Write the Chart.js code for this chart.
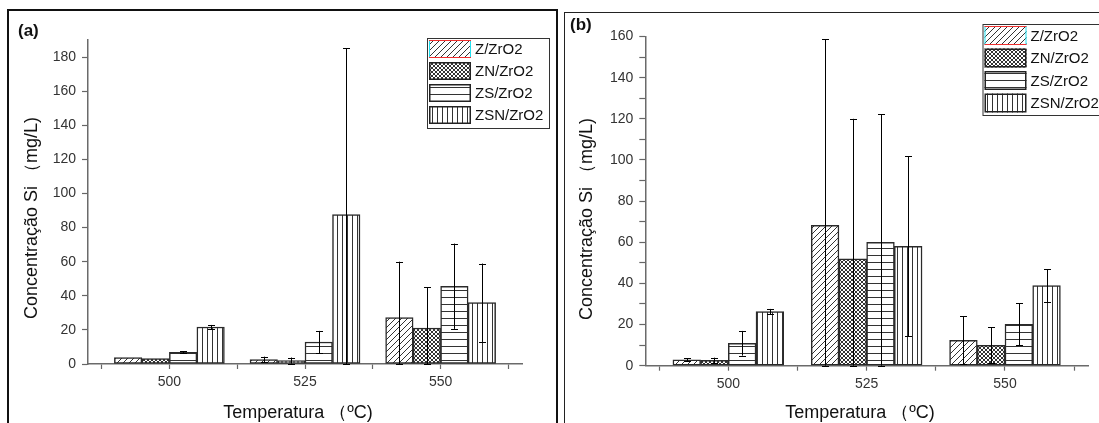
<!DOCTYPE html>
<html>
<head>
<meta charset="utf-8">
<script src="https://cdn.jsdelivr.net/npm/chart.js@4.4.1/dist/chart.umd.min.js"></script>
<style>
  body { margin: 0; background: #fff; width: 1099px; height: 423px; overflow: hidden; position: relative; }
  canvas { position: absolute; top: 0; }
  #chartA { left: 0; }
  #chartB { left: 560px; }
  .frame { position: absolute; pointer-events: none; }
  #frameA { left: 7px; top: 9px; width: 547px; height: 500px; border: 2px solid #111; }
  #frameB { left: 564px; top: 12px; width: 600px; height: 500px; border: 1px solid #222; }
  .tag { position: absolute; font: bold 17px Arial, "Liberation Sans", sans-serif; color: #111; }
</style>
</head>
<body>
<canvas id="chartA" width="560" height="423"></canvas>
<canvas id="chartB" width="539" height="423"></canvas>
<div class="frame" id="frameA"></div>
<div class="frame" id="frameB"></div>
<div class="tag" style="left:18px;top:21px">(a)</div>
<div class="tag" style="left:570px;top:15px">(b)</div>
<script>
// temperatures (ºC)
const categories = [500, 525, 550];
const seriesNames = ['Z/ZrO2', 'ZN/ZrO2', 'ZS/ZrO2', 'ZSN/ZrO2'];
const xTitle = 'Temperatura （ºC)';
const yTitle = 'Concentração Si （mg/L)';

// panel (a)  Concentração Si (mg/L)
const aZ = [3.8, 2.6, 27.2];
const aZErr = [0, 1.7, 32.8];
const aZN = [3.2, 2.0, 21.1];
const aZNErr = [0, 1.8, 24.0];
const aZS = [6.8, 12.9, 45.6];
const aZSErr = [0.6, 6.5, 25.0];
const aZSN = [21.7, 87.6, 36.0];
const aZSNErr = [1.2, 97.7, 22.9];

// panel (b)
const bZ = [2.9, 68.2, 12.3];
const bZErr = [0.8, 90.5, 11.7];
const bZN = [2.6, 52.0, 9.9];
const bZNErr = [1.3, 68.0, 8.8];
const bZS = [10.9, 60.0, 20.1];
const bZSErr = [6.0, 62.2, 10.2];
const bZSN = [26.3, 58.0, 38.9];
const bZSNErr = [1.3, 43.8, 7.9];

const FONT = 'Arial, "Liberation Sans", sans-serif';

// hatch fills
function makePattern(kind) {
    const c = document.createElement('canvas');
    const s = kind === 'vert' ? 5 : kind === 'cross' ? 4 : kind === 'horiz' ? 7 : 6;
    c.width = s; c.height = s;
    const g = c.getContext('2d');
    g.fillStyle = '#fff';
    g.fillRect(0, 0, s, s);
    g.strokeStyle = '#333';
    g.lineWidth = 1;
    g.beginPath();
    if (kind === 'diag') {
        g.moveTo(0, s); g.lineTo(s, 0);
        g.moveTo(-1, 1); g.lineTo(1, -1);
        g.moveTo(s - 1, s + 1); g.lineTo(s + 1, s - 1);
    } else if (kind === 'cross') {
        g.moveTo(0, 0); g.lineTo(s, s);
        g.moveTo(0, s); g.lineTo(s, 0);
    } else if (kind === 'horiz') {
        g.moveTo(0, 3.5); g.lineTo(s, 3.5);
    } else {
        g.moveTo(2.5, 0); g.lineTo(2.5, s);
    }
    g.stroke();
    return g.createPattern(c, 'repeat');
}
const fills = [makePattern('diag'), makePattern('cross'), makePattern('horiz'), makePattern('vert')];

const errorBars = {
    id: 'errorBars',
    afterDatasetsDraw(chart) {
        const ctx = chart.ctx;
        const y = chart.scales.y;
        ctx.save();
        ctx.strokeStyle = '#000';
        ctx.lineWidth = 1;
        chart.data.datasets.forEach((ds, i) => {
            const meta = chart.getDatasetMeta(i);
            meta.data.forEach((bar, j) => {
                const err = ds.errors[j];
                if (!err) return;
                const v = ds.data[j].y;
                const top = y.getPixelForValue(v + err);
                const bot = y.getPixelForValue(Math.max(v - err, 0));
                const x = Math.round(bar.x) + 0.5;
                ctx.beginPath();
                ctx.moveTo(x, top); ctx.lineTo(x, bot);
                ctx.moveTo(x - 3.5, Math.round(top) + 0.5); ctx.lineTo(x + 3.5, Math.round(top) + 0.5);
                ctx.moveTo(x - 3.5, Math.round(bot) + 0.5); ctx.lineTo(x + 3.5, Math.round(bot) + 0.5);
                ctx.stroke();
            });
        });
        ctx.restore();
    }
};

// axis titles placed as in the original figure
const axisTitles = {
    id: 'axisTitles',
    afterDraw(chart, args, o) {
        const ctx = chart.ctx;
        ctx.save();
        ctx.fillStyle = '#111';
        ctx.font = '18px ' + FONT;
        ctx.textAlign = 'center';
        ctx.textBaseline = 'middle';
        ctx.fillText(xTitle, o.xx, o.xy);
        ctx.translate(o.yx, o.yy);
        ctx.rotate(-Math.PI / 2);
        ctx.fillText(yTitle, 0, 0);
        ctx.restore();
    }
};

const legendBox = {
    id: 'legendBox',
    afterDraw(chart, args, o) {
        const ctx = chart.ctx;
        ctx.save();
        ctx.strokeStyle = '#333';
        ctx.lineWidth = 1;
        ctx.strokeRect(o.x + 0.5, o.y + 0.5, o.w, o.h);
        ctx.font = '15px ' + FONT;
        ctx.textBaseline = 'middle';
        chart.data.datasets.forEach((ds, i) => {
            const sx = o.x + 2, sy = o.y + 2 + i * o.row;
            ctx.fillStyle = ds.backgroundColor;
            ctx.fillRect(sx, sy, o.sw, o.sh);
            if (i === 0) {
                ctx.lineWidth = 1;
                ctx.strokeStyle = '#20e0f0';
                ctx.beginPath();
                ctx.moveTo(sx + 0.5, sy); ctx.lineTo(sx + 0.5, sy + o.sh);
                ctx.moveTo(sx + o.sw - 0.5, sy); ctx.lineTo(sx + o.sw - 0.5, sy + o.sh);
                ctx.stroke();
                ctx.strokeStyle = '#f03030';
                ctx.beginPath();
                ctx.moveTo(sx, sy + 0.5); ctx.lineTo(sx + o.sw, sy + 0.5);
                ctx.moveTo(sx, sy + o.sh - 0.5); ctx.lineTo(sx + o.sw, sy + o.sh - 0.5);
                ctx.stroke();
            } else {
                ctx.lineWidth = 1.5;
                ctx.strokeStyle = '#222';
                ctx.strokeRect(sx + 0.75, sy + 0.75, o.sw - 1.5, o.sh - 1.5);
            }
            ctx.fillStyle = '#111';
            ctx.fillText(ds.label, sx + o.sw + 4, sy + o.sh / 2 + 1);
        });
        ctx.restore();
    }
};

function buildDatasets(values, errors, thick) {
    return seriesNames.map((name, i) => ({
        label: name,
        data: categories.map((c, j) => ({ x: c, y: values[i][j] })),
        errors: errors[i],
        backgroundColor: fills[i],
        borderColor: '#2a2a2a',
        borderWidth: 1.5,
        borderSkipped: false,
        barThickness: thick
    }));
}

function makeChart(id, values, errors, yMax, geo) {
    const xTicks = [];
    categories.forEach((c, i) => {
        xTicks.push(c - 12.5, c);
        if (i === categories.length - 1) xTicks.push(c + 12.5);
    });
    return new Chart(document.getElementById(id), {
        type: 'bar',
        data: { datasets: buildDatasets(values, errors, geo.bar) },
        plugins: [errorBars, legendBox, axisTitles],
        options: {
            responsive: false,
            animation: false,
            devicePixelRatio: 1,
            layout: { padding: { left: 0, right: geo.right, top: geo.top, bottom: 0 } },
            plugins: {
                legend: { display: false },
                tooltip: { enabled: false },
                legendBox: geo.legend,
                axisTitles: geo.titles
            },
            scales: {
                x: {
                    type: 'linear',
                    offset: false,
                    min: 485,
                    max: 565,
                    afterBuildTicks: (s) => { s.ticks = xTicks.map(v => ({ value: v })); },
                    afterFit: (s) => { s.height = geo.xh; },
                    grid: { offset: false, drawOnChartArea: false, tickLength: 5, tickColor: '#666', tickWidth: 1.2 },
                    border: { color: '#6a6a6a', width: 1.5 },
                    ticks: {
                        autoSkip: false, maxRotation: 0, padding: 5,
                        color: '#333', font: { size: 14, family: FONT },
                        callback: (v) => categories.includes(v) ? String(v) : ''
                    }
                },
                y: {
                    min: 0,
                    max: yMax,
                    afterBuildTicks: (s) => {
                        const t = [];
                        for (let v = 0; v <= yMax; v += 10) t.push({ value: v });
                        s.ticks = t;
                    },
                    afterFit: (s) => { s.width = geo.yw; },
                    grid: { drawOnChartArea: false, tickLength: 6, tickColor: '#666', tickWidth: 1.2 },
                    border: { color: '#6a6a6a', width: 1.5 },
                    ticks: {
                        padding: 6, color: '#333', font: { size: 14, family: FONT },
                        callback: (v) => v % 20 === 0 ? String(v) : ''
                    }
                }
            }
        }
    });
}

makeChart('chartA', [aZ, aZN, aZS, aZSN], [aZErr, aZNErr, aZSErr, aZSNErr], 190, {
    right: 38, top: 40, xh: 59, yw: 88, bar: 27.5,
    titles: { xx: 298, xy: 413, yx: 32, yy: 218 },
    legend: { x: 427, y: 38, w: 122, h: 90, row: 22, sw: 42, sh: 18 }
});
makeChart('chartB', [bZ, bZN, bZS, bZSN], [bZErr, bZNErr, bZSErr, bZSNErr], 160, {
    right: 11, top: 36.5, xh: 57.3, yw: 85.3, bar: 27.7,
    titles: { xx: 300, xy: 413, yx: 27, yy: 219 },
    legend: { x: 422.5, y: 24, w: 200, h: 91, row: 22.5, sw: 42, sh: 19 }
});
</script>
</body>
</html>
